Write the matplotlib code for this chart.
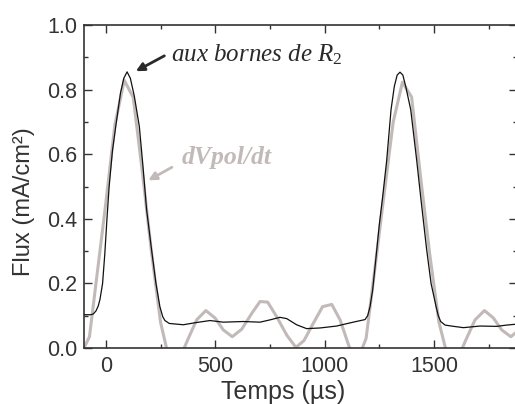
import matplotlib
matplotlib.use("Agg")
import matplotlib.pyplot as plt
from matplotlib.ticker import MultipleLocator

plt.rcParams['font.family'] = ['Liberation Sans', 'DejaVu Sans']
plt.rcParams['mathtext.fontset'] = 'custom'
plt.rcParams['mathtext.rm'] = 'Liberation Serif'
plt.rcParams['mathtext.it'] = 'Liberation Serif:italic'

# ======================
# data
# ======================
# black: flux "aux bornes de R2"
black_t = [-100, -70, -58, -45, -35, -27, -15, -5, 5, 15, 30, 46, 67, 82, 97,
           112, 130, 153, 170, 186, 209, 229, 247, 260, 270, 290, 354, 415,
           476, 537, 628, 705, 750, 796, 827, 872, 918, 979, 1055, 1131, 1185,
           1197, 1208, 1220, 1231, 1250, 1266, 1284, 1304, 1319, 1332, 1345,
           1358, 1371, 1394, 1421, 1441, 1467, 1487, 1510, 1520, 1531, 1551,
           1580, 1635, 1711, 1787, 1833, 1880]
black_v = [0.103, 0.103, 0.105, 0.115, 0.13, 0.15, 0.20, 0.29, 0.40, 0.50,
           0.61, 0.69, 0.79, 0.835, 0.855, 0.835, 0.78, 0.686, 0.56, 0.43,
           0.304, 0.20, 0.128, 0.097, 0.085, 0.076, 0.072, 0.079, 0.085,
           0.080, 0.082, 0.080, 0.087, 0.095, 0.091, 0.072, 0.060, 0.062,
           0.068, 0.080, 0.088, 0.10, 0.128, 0.18, 0.252, 0.38, 0.47, 0.58,
           0.738, 0.81, 0.845, 0.854, 0.845, 0.81, 0.738, 0.583, 0.459, 0.304,
           0.20, 0.128, 0.10, 0.082, 0.071, 0.068, 0.063, 0.068, 0.067, 0.071,
           0.074]

# gray: dVpol/dt
gray_t = [-100, -75, -38, 0, 41, 84, 125, 166, 208, 250, 291, 333, 374, 415,
          457, 499, 537, 578, 621, 667, 705, 740, 781, 827, 869, 906, 948, 991,
          1033, 1071, 1112, 1150, 1190, 1231, 1273, 1314, 1356, 1398, 1439,
          1481, 1523, 1564, 1605, 1646, 1688, 1731, 1772, 1810, 1852, 1893]
gray_v = [0.0, 0.035, 0.24, 0.45, 0.69, 0.829, 0.776, 0.55, 0.30, 0.08,
          -0.04, -0.04, 0.025, 0.087, 0.116, 0.093, 0.056, 0.035, 0.058,
          0.107, 0.144, 0.142, 0.097, 0.040, 0.002, 0.023, 0.076, 0.128,
          0.135, 0.087, 0.005, -0.04, 0.03, 0.25, 0.48, 0.70, 0.823, 0.777,
          0.53, 0.29, 0.08, -0.03, -0.04, 0.025, 0.087, 0.116, 0.093, 0.056,
          0.035, 0.058]

DARK = '#333333'
GRAY = '#c2bab8'

# ======================
# figure
# ======================
fig = plt.figure(figsize=(5.15, 4.04), dpi=100)
ax = fig.add_axes([0.1631, 0.1386, 0.8408, 0.7995])

ax.plot(gray_t, gray_v, color=GRAY, lw=2.2, zorder=2)
ax.plot(black_t, black_v, color='#111111', lw=0.9, zorder=3)

ax.set_xlim(-100, 1880)
ax.set_ylim(0, 1.0)

ax.xaxis.set_major_locator(MultipleLocator(500))
ax.xaxis.set_minor_locator(MultipleLocator(250))
ax.yaxis.set_major_locator(MultipleLocator(0.2))
ax.yaxis.set_minor_locator(MultipleLocator(0.1))
ax.yaxis.set_major_formatter(plt.FormatStrFormatter('%.1f'))

ax.tick_params(which='both', direction='in', top=True, right=True,
               color=DARK, labelcolor=DARK, labelsize=15.5)
ax.tick_params(which='major', length=6, width=1)
ax.tick_params(which='minor', length=3, width=1)
ax.tick_params(axis='x', pad=5.5)
ax.tick_params(axis='y', pad=5)

for s in ax.spines.values():
    s.set_color(DARK)
    s.set_linewidth(1.2)

ax.set_xlabel("Temps (µs)", fontsize=18, color=DARK)
ax.set_ylabel("Flux (mA/cm²)", fontsize=17, color=DARK)
ax.xaxis.set_label_coords(0.46, -0.1)
ax.yaxis.set_label_coords(-0.113, 0.452)

# annotations
ax.annotate("aux bornes de $R_2$", xy=(137, 0.857), xytext=(297, 0.887),
            fontsize=18, color='#2a2a2a', family='Liberation Serif',
            style='italic', va='baseline',
            arrowprops=dict(arrowstyle='-|>', color='#2a2a2a', lw=2,
                            mutation_scale=12, shrinkA=3, shrinkB=0,
                            relpos=(0, 0.6)))
ax.annotate("dVpol/dt", xy=(194, 0.519), xytext=(348, 0.571),
            fontsize=18.5, color=GRAY, family='Liberation Serif',
            style='italic', weight='bold', va='baseline',
            arrowprops=dict(arrowstyle='-|>', color=GRAY, lw=2,
                            mutation_scale=12, shrinkA=6, shrinkB=0,
                            relpos=(0, 0.3)))

plt.savefig("out.png", dpi=100)
